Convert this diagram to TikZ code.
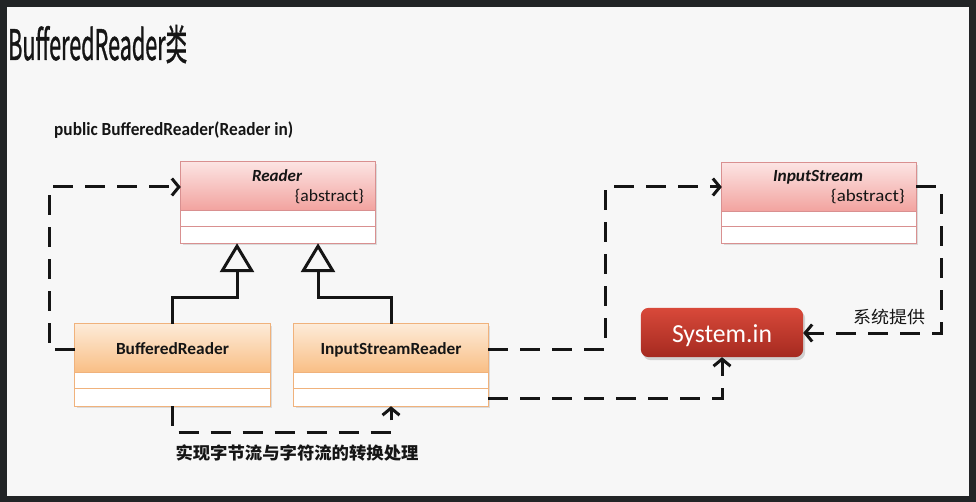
\documentclass[tikz,border=0pt]{standalone}
\usepackage{fontspec}
\usepackage{graphicx}
\setmainfont{Carlito}
\newfontfamily\cjkf{Noto Sans CJK SC}
\newfontfamily\cjkT[FakeBold=1.2]{Noto Sans CJK SC}
\usetikzlibrary{arrows.meta}
\newcommand\fitw[2]{\resizebox{#1}{\height}{#2}}
\definecolor{frameC}{HTML}{222426}
\definecolor{paperC}{HTML}{F7F7F7}
\definecolor{pinkT}{HTML}{FCE4E3}
\definecolor{pinkB}{HTML}{F2A29E}
\definecolor{pinkE}{HTML}{D99090}
\definecolor{orT}{HTML}{FDEBD8}
\definecolor{orB}{HTML}{F9BE84}
\definecolor{orE}{HTML}{F0B27C}
\definecolor{redT}{HTML}{D8493A}
\definecolor{redB}{HTML}{A52A20}
\definecolor{inkC}{HTML}{151515}
\tikzset{
  boxnode/.style={inner sep=0pt, minimum width=194pt},
  lbl/.style={inner sep=0pt, text=inkC},
  dsh/.style={line width=3pt, inkC, dash pattern=on 20pt off 12pt, -{Straight Barb[length=7pt,width=17pt,line width=3pt]}},
  inh/.style={line width=3pt, inkC, -{Triangle[open,length=29pt,width=34pt,line width=3pt]}},
  shad/.style={fill=black!14},
}
\begin{document}
\begin{tikzpicture}[x=1pt,y=-1pt]
\fill[frameC] (0,0) rectangle (976,502);
\fill[paperC] (7,7) rectangle (969,496);
\useasboundingbox (0,0) rectangle (976,502);

% title
\node[lbl, anchor=base west] (title) at (8,60) {\cjkT\fontsize{42}{42}\selectfont\fitw{179pt}{BufferedReader类}};
\node[lbl, anchor=base west] (sig) at (54,136) {\bfseries\fontsize{18.5}{20}\selectfont\fitw{239pt}{public BufferedReader(Reader in)}};

% Reader
\node[boxnode, minimum height=81pt] (reader) at (278,202.5) {};
\fill[shad] ([xshift=2pt,yshift=-2pt]reader.north west) rectangle ([xshift=2pt,yshift=-2pt]reader.south east);
\fill[white] (reader.north west) rectangle (reader.south east);
\shade[top color=pinkT, bottom color=pinkB] (reader.north west) rectangle ([yshift=-49pt]reader.north east);
\draw[pinkE, line width=1pt] ([yshift=-49pt]reader.north west) -- ([yshift=-49pt]reader.north east);
\draw[pinkE, line width=1pt] ([yshift=-65pt]reader.north west) -- ([yshift=-65pt]reader.north east);
\draw[pinkE, line width=1pt] (reader.north west) rectangle (reader.south east);
\node[lbl, anchor=base] (readerT) at (277,182) {\bfseries\itshape\fontsize{17}{20}\selectfont\fitw{50pt}{Reader}};
\node[lbl, anchor=base east] (readerA) at (364,202) {\fontsize{17}{20}\selectfont\fitw{69pt}{\{abstract\}}};

% InputStream
\node[boxnode, minimum height=80pt] (istream) at (819,203) {};
\fill[shad] ([xshift=2pt,yshift=-2pt]istream.north west) rectangle ([xshift=2pt,yshift=-2pt]istream.south east);
\fill[white] (istream.north west) rectangle (istream.south east);
\shade[top color=pinkT, bottom color=pinkB] (istream.north west) rectangle ([yshift=-49pt]istream.north east);
\draw[pinkE, line width=1pt] ([yshift=-49pt]istream.north west) -- ([yshift=-49pt]istream.north east);
\draw[pinkE, line width=1pt] ([yshift=-64pt]istream.north west) -- ([yshift=-64pt]istream.north east);
\draw[pinkE, line width=1pt] (istream.north west) rectangle (istream.south east);
\node[lbl, anchor=base] (istreamT) at (818,182) {\bfseries\itshape\fontsize{17}{20}\selectfont\fitw{90pt}{InputStream}};
\node[lbl, anchor=base east] (istreamA) at (905,202) {\fontsize{17}{20}\selectfont\fitw{74pt}{\{abstract\}}};

% BufferedReader
\node[boxnode, minimum height=82pt, minimum width=195pt] (br) at (172.5,365) {};
\fill[shad] ([xshift=2pt,yshift=-2pt]br.north west) rectangle ([xshift=2pt,yshift=-2pt]br.south east);
\fill[white] (br.north west) rectangle (br.south east);
\shade[top color=orT, bottom color=orB] (br.north west) rectangle ([yshift=-49pt]br.north east);
\draw[orE, line width=1pt] ([yshift=-49pt]br.north west) -- ([yshift=-49pt]br.north east);
\draw[orE, line width=1pt] ([yshift=-65pt]br.north west) -- ([yshift=-65pt]br.north east);
\draw[orE, line width=1pt] (br.north west) rectangle (br.south east);
\node[lbl, anchor=base] (brT) at (172.5,354) {\bfseries\fontsize{17}{20}\selectfont\fitw{113pt}{BufferedReader}};

% InputStreamReader
\node[boxnode, minimum height=82pt] (isr) at (391,365) {};
\fill[shad] ([xshift=2pt,yshift=-2pt]isr.north west) rectangle ([xshift=2pt,yshift=-2pt]isr.south east);
\fill[white] (isr.north west) rectangle (isr.south east);
\shade[top color=orT, bottom color=orB] (isr.north west) rectangle ([yshift=-49pt]isr.north east);
\draw[orE, line width=1pt] ([yshift=-49pt]isr.north west) -- ([yshift=-49pt]isr.north east);
\draw[orE, line width=1pt] ([yshift=-65pt]isr.north west) -- ([yshift=-65pt]isr.north east);
\draw[orE, line width=1pt] (isr.north west) rectangle (isr.south east);
\node[lbl, anchor=base] (isrT) at (391,354) {\bfseries\fontsize{17}{20}\selectfont\fitw{141pt}{InputStreamReader}};

% System.in
\node[inner sep=0pt, minimum width=162pt, minimum height=49pt] (sysin) at (722,332.5) {};
\fill[black!18, rounded corners=8pt] ([xshift=2pt,yshift=-3pt]sysin.north west) rectangle ([xshift=2pt,yshift=-3pt]sysin.south east);
\shade[top color=redT, bottom color=redB, rounded corners=8pt] (sysin.north west) rectangle (sysin.south east);
\node[inner sep=0pt, anchor=base, text=white] (sysinT) at (722,342) {\fontsize{26}{28}\selectfont\fitw{100pt}{System.in}};

% inheritance
\draw[inh] (br.north) -- (br.north |- 0,298) -- (237,298) -- ([xshift=-41pt]reader.south);
\draw[inh] (isr.north) -- (isr.north |- 0,298) -- (318,298) -- ([xshift=40pt]reader.south);

% dashed dependencies
\draw[dsh] (br.west |- 0,349) -- (49,349) -- (49,187) -- (reader.west |- 0,187);
\draw[dsh] (isr.east |- 0,349) -- (605,349) -- (605,187) -- (istream.west |- 0,187);
\draw[dsh] (istream.east |- 0,187) -- (941,187) -- (941,333) -- (sysin.east |- 0,333);
\draw[dsh] (isr.east |- 0,398) -- (sysin.south |- 0,398) -- (sysin.south);
\draw[dsh] (br.south) -- (br.south |- 0,432) -- (isr.south |- 0,432) -- (isr.south);

% labels
\node[lbl] (sysLbl) at (889,317) {\cjkf\fontsize{17}{20}\selectfont\fitw{72pt}{系统提供}};
\node[lbl] (convLbl) at (297,453) {\cjkf\bfseries\fontsize{17}{20}\selectfont\fitw{243pt}{实现字节流与字符流的转换处理}};
\end{tikzpicture}
\end{document}
